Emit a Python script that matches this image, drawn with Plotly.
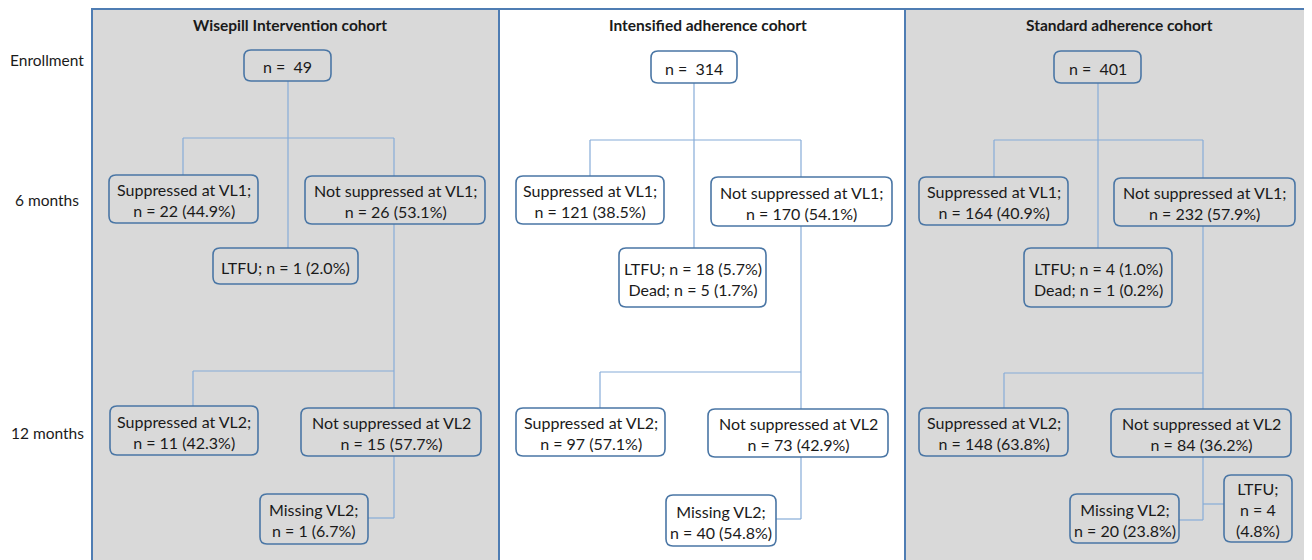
import plotly.graph_objects as go

# ---------------- data ----------------
timepoints = ["Enrollment", "6 months", "12 months"]
cohorts = ["Wisepill Intervention cohort", "Intensified adherence cohort", "Standard adherence cohort"]
enrolled = [49, 314, 401]
sup_vl1_n = [22, 121, 164]
sup_vl1_pct = [44.9, 38.5, 40.9]
nsup_vl1_n = [26, 170, 232]
nsup_vl1_pct = [53.1, 54.1, 57.9]
ltfu1_n = [1, 18, 4]
ltfu1_pct = [2.0, 5.7, 1.0]
dead_n = [None, 5, 1]
dead_pct = [None, 1.7, 0.2]
sup_vl2_n = [11, 97, 148]
sup_vl2_pct = [42.3, 57.1, 63.8]
nsup_vl2_n = [15, 73, 84]
nsup_vl2_pct = [57.7, 42.9, 36.2]
missing_n = [1, 40, 20]
missing_pct = [6.7, 54.8, 23.8]
ltfu2_n = [None, None, 4]
ltfu2_pct = [None, None, 4.8]

# ---------------- layout (pixel positions) ----------------
W, H = 1312, 560
OFF = 8  # page body margin: shift axis ranges so that data units equal page pixels
panel_x = [(92, 499), (499, 905), (905, 1311)]
panel_fill = ["#d9d9d9", "#ffffff", "#d9d9d9"]
panel_top = 9
title_pos = [(290, 25), (708, 25), (1119, 25)]
row_label_pos = [(47, 60), (47, 200), (47, 433)]

boxes = [
    dict(enroll=(244, 50, 331, 81), sup1=(109, 175, 258, 223), nsup1=(305, 176, 485, 224),
         ltfu1=(213, 248, 358, 284), sup2=(110, 406, 258, 455), nsup2=(301, 408, 481, 456),
         miss=(260, 494, 368, 544), ltfu2=None,
         cx=288, by=138, lx=183, rx=394, by2=371, lx2=193, my=518, ly=None),
    dict(enroll=(651, 51, 737, 83), sup1=(516, 176, 664, 224), nsup1=(711, 177, 892, 226),
         ltfu1=(619, 248, 766, 307), sup2=(516, 408, 665, 456), nsup2=(708, 409, 888, 457),
         miss=(666, 495, 776, 546), ltfu2=None,
         cx=694, by=140, lx=590, rx=801, by2=372, lx2=600, my=519, ly=None),
    dict(enroll=(1054, 51, 1141, 83), sup1=(919, 177, 1068, 225), nsup1=(1114, 178, 1295, 226),
         ltfu1=(1024, 248, 1172, 307), sup2=(919, 408, 1068, 456), nsup2=(1111, 409, 1291, 457),
         miss=(1070, 494, 1179, 543), ltfu2=(1224, 475, 1292, 542),
         cx=1098, by=140, lx=994, rx=1203, by2=373, lx2=1004, my=520, ly=504),
]

PANEL_BORDER = "#4f7db3"
BOX_BORDER = "#4a76a5"
LINE_COLOR = "#86acd8"
TEXT_COLOR = "#1a1a1a"
FONT = "Lato, 'Open Sans', sans-serif"


def rounded(x0, y0, x1, y1, r=7):
    return (f"M{x0+r},{y0} L{x1-r},{y0} Q{x1},{y0} {x1},{y0+r} L{x1},{y1-r} "
            f"Q{x1},{y1} {x1-r},{y1} L{x0+r},{y1} Q{x0},{y1} {x0},{y1-r} "
            f"L{x0},{y0+r} Q{x0},{y0} {x0+r},{y0} Z")


shapes = []
annotations = []

# panels
for (x0, x1), fill in zip(panel_x, panel_fill):
    shapes.append(dict(type="rect", xref="x", yref="y", x0=x0, x1=x1, y0=panel_top, y1=H + 20,
                       fillcolor=fill, line=dict(color=PANEL_BORDER, width=2), layer="below"))

# connectors
for b in boxes:
    segs = []
    e = b["enroll"]
    segs.append((b["cx"], e[3], b["cx"], b["ltfu1"][1]))
    segs.append((b["lx"], b["by"], b["rx"], b["by"]))
    segs.append((b["lx"], b["by"], b["lx"], b["sup1"][1]))
    segs.append((b["rx"], b["by"], b["rx"], b["nsup1"][1]))
    segs.append((b["rx"], b["nsup1"][3], b["rx"], b["nsup2"][1]))
    segs.append((b["lx2"], b["by2"], b["rx"], b["by2"]))
    segs.append((b["lx2"], b["by2"], b["lx2"], b["sup2"][1]))
    segs.append((b["rx"], b["nsup2"][3], b["rx"], b["my"]))
    segs.append((b["miss"][2], b["my"], b["rx"], b["my"]))
    if b["ltfu2"] is not None:
        segs.append((b["rx"], b["ly"], b["ltfu2"][0], b["ly"]))
    for (x0, y0, x1, y1) in segs:
        shapes.append(dict(type="line", xref="x", yref="y", x0=x0, y0=y0, x1=x1, y1=y1,
                           line=dict(color=LINE_COLOR, width=1.2), layer="below"))


def pct(v):
    return f"{v:.1f}%"


def box_text(i):
    t = {}
    t["enroll"] = f"n =  {enrolled[i]}"
    t["sup1"] = f"Suppressed at VL1;<br>n = {sup_vl1_n[i]} ({pct(sup_vl1_pct[i])})"
    t["nsup1"] = f"Not suppressed at VL1;<br>n = {nsup_vl1_n[i]} ({pct(nsup_vl1_pct[i])})"
    lt = f"LTFU; n = {ltfu1_n[i]} ({pct(ltfu1_pct[i])})"
    if dead_n[i] is not None:
        lt += f"<br>Dead; n = {dead_n[i]} ({pct(dead_pct[i])})"
    t["ltfu1"] = lt
    t["sup2"] = f"Suppressed at VL2;<br>n = {sup_vl2_n[i]} ({pct(sup_vl2_pct[i])})"
    t["nsup2"] = f"Not suppressed at VL2<br>n = {nsup_vl2_n[i]} ({pct(nsup_vl2_pct[i])})"
    t["miss"] = f"Missing VL2;<br>n = {missing_n[i]} ({pct(missing_pct[i])})"
    if ltfu2_n[i] is not None:
        t["ltfu2"] = f"LTFU;<br>n = {ltfu2_n[i]}<br>({pct(ltfu2_pct[i])})"
    return t


for i, b in enumerate(boxes):
    texts = box_text(i)
    for key, txt in texts.items():
        x0, y0, x1, y1 = b[key]
        shapes.append(dict(type="path", xref="x", yref="y", path=rounded(x0, y0, x1, y1),
                           fillcolor=panel_fill[i], line=dict(color=BOX_BORDER, width=1.6),
                           layer="above"))
        annotations.append(dict(x=(x0 + x1) / 2, y=(y0 + y1) / 2 + 1, xref="x", yref="y",
                                text=txt, showarrow=False, xanchor="center", yanchor="middle",
                                font=dict(family=FONT, size=16, color=TEXT_COLOR)))
    tx, ty = title_pos[i]
    annotations.append(dict(x=tx, y=ty, xref="x", yref="y", text=f"<b>{cohorts[i]}</b>",
                            showarrow=False, xanchor="center", yanchor="middle",
                            font=dict(family=FONT, size=15.5, color=TEXT_COLOR)))

for lbl, (lx, ly) in zip(timepoints, row_label_pos):
    annotations.append(dict(x=lx, y=ly, xref="x", yref="y", text=lbl, showarrow=False,
                            xanchor="center", yanchor="middle",
                            font=dict(family=FONT, size=15.5, color=TEXT_COLOR)))

fig = go.Figure()
fig.add_trace(go.Scatter(x=[OFF, W + OFF], y=[OFF, H + OFF], mode="markers",
                         marker=dict(opacity=0), hoverinfo="skip", showlegend=False))
fig.update_layout(
    width=W, height=H, margin=dict(l=0, r=0, t=0, b=0),
    paper_bgcolor="white", plot_bgcolor="white",
    xaxis=dict(range=[OFF, W + OFF], visible=False, fixedrange=True),
    yaxis=dict(range=[H + OFF, OFF], visible=False, fixedrange=True),
    shapes=shapes, annotations=annotations, showlegend=False,
)
fig.write_html("out.html")
